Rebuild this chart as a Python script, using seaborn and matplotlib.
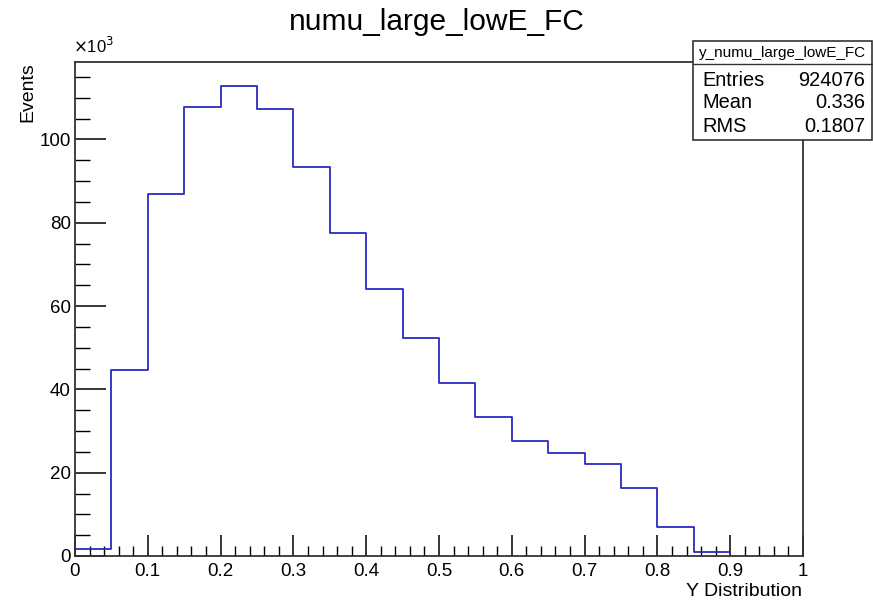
import matplotlib
matplotlib.use("Agg")
import matplotlib.pyplot as plt
from matplotlib.patches import Rectangle
from matplotlib.lines import Line2D
from matplotlib.ticker import MultipleLocator
import numpy as np
import seaborn as sns

# ---- data ----
bin_edges = [0.0, 0.05, 0.10, 0.15, 0.20, 0.25, 0.30, 0.35, 0.40, 0.45,
             0.50, 0.55, 0.60, 0.65, 0.70, 0.75, 0.80, 0.85, 0.90]
counts_k = [1.7, 44.7, 86.8, 107.8, 112.9, 107.2, 93.4, 77.6, 64.2, 52.4,
            41.6, 33.4, 27.6, 24.8, 22.1, 16.3, 7.0, 1.0]
title = "numu_large_lowE_FC"
stats_name = "y_numu_large_lowE_FC"
stats_rows = [("Entries", "924076"), ("Mean", "0.336"), ("RMS", "0.1807")]
xlabel = "Y Distribution"
ylabel = "Events"
xtick_vals = [0, 0.1, 0.2, 0.3, 0.4, 0.5, 0.6, 0.7, 0.8, 0.9, 1.0]
xtick_labels = ["0", "0.1", "0.2", "0.3", "0.4", "0.5", "0.6", "0.7", "0.8", "0.9", "1"]

sns.set_theme(style="white")
plt.rcParams['font.family'] = ['Liberation Sans', 'DejaVu Sans']
plt.rcParams['text.color'] = 'black'
plt.rcParams['xtick.color'] = 'black'
plt.rcParams['ytick.color'] = 'black'

W, H = 873, 601
fig = plt.figure(figsize=(W / 100, H / 100), dpi=100)
L, R, B, T = 75, 803, 556, 62
ax = fig.add_axes([L / W, 1 - B / H, (R - L) / W, (B - T) / H])

centers = [(a + b) / 2 for a, b in zip(bin_edges[:-1], bin_edges[1:])]
sns.histplot(x=centers, weights=counts_k, bins=bin_edges, element="step",
             fill=False, color="#2a2ac0", linewidth=1.3, ax=ax)

ax.set_xlim(0, 1)
ax.set_ylim(0, 118.6)
ax.set_xticks(xtick_vals)
ax.set_xticklabels(xtick_labels)
ax.xaxis.set_minor_locator(MultipleLocator(0.02))
ax.yaxis.set_major_locator(MultipleLocator(20))
ax.yaxis.set_minor_locator(MultipleLocator(5))
ax.tick_params(axis="both", which="both", direction="in", colors="black",
               labelsize=13.5, bottom=True, left=True, top=False, right=False,
               labelcolor="black")
ax.tick_params(axis="x", which="major", length=15, width=1.1, pad=5)
ax.tick_params(axis="x", which="minor", length=7, width=1)
ax.tick_params(axis="y", which="major", length=22, width=1.1, pad=3)
ax.tick_params(axis="y", which="minor", length=11, width=1)
for s in ax.spines.values():
    s.set_visible(True)
    s.set_color("#333333")
    s.set_linewidth(1.3)
ax.set_xlabel("")
ax.set_ylabel("")

fig.text(802 / W, 1 - 592 / H, xlabel, ha="right", va="center", fontsize=14)
fig.text(28 / W, 1 - 62 / H, ylabel, ha="center", va="top", rotation=90, fontsize=14)
fig.text(73 / W, 1 - 56 / H, r"$\times$10$^{3}$", ha="left", va="bottom", fontsize=12)
fig.text(437 / W, 1 - 22 / H, title, ha="center", va="center", fontsize=21.5)

# stats box
bx0, bx1, by0, by1, byh = 693, 872, 41, 140, 64
fig.add_artist(Rectangle((bx0 / W, 1 - by1 / H), (bx1 - bx0) / W, (by1 - by0) / H,
                         transform=fig.transFigure, facecolor="white",
                         edgecolor="#333333", linewidth=1.2, zorder=10))
fig.add_artist(Line2D([bx0 / W, bx1 / W], [1 - byh / H, 1 - byh / H],
                      transform=fig.transFigure, color="#333333", linewidth=1.0, zorder=11))
fig.text((bx0 + bx1) / 2 / W, 1 - 53 / H, stats_name, ha="center", va="center",
         fontsize=11, zorder=12)
row_y = [80, 103, 127]
for (k, v), yy in zip(stats_rows, row_y):
    fig.text(702 / W, 1 - yy / H, k, ha="left", va="center", fontsize=14.4, zorder=12)
    fig.text(865 / W, 1 - yy / H, v, ha="right", va="center", fontsize=14.4, zorder=12)

fig.savefig("out.png", dpi=100)
